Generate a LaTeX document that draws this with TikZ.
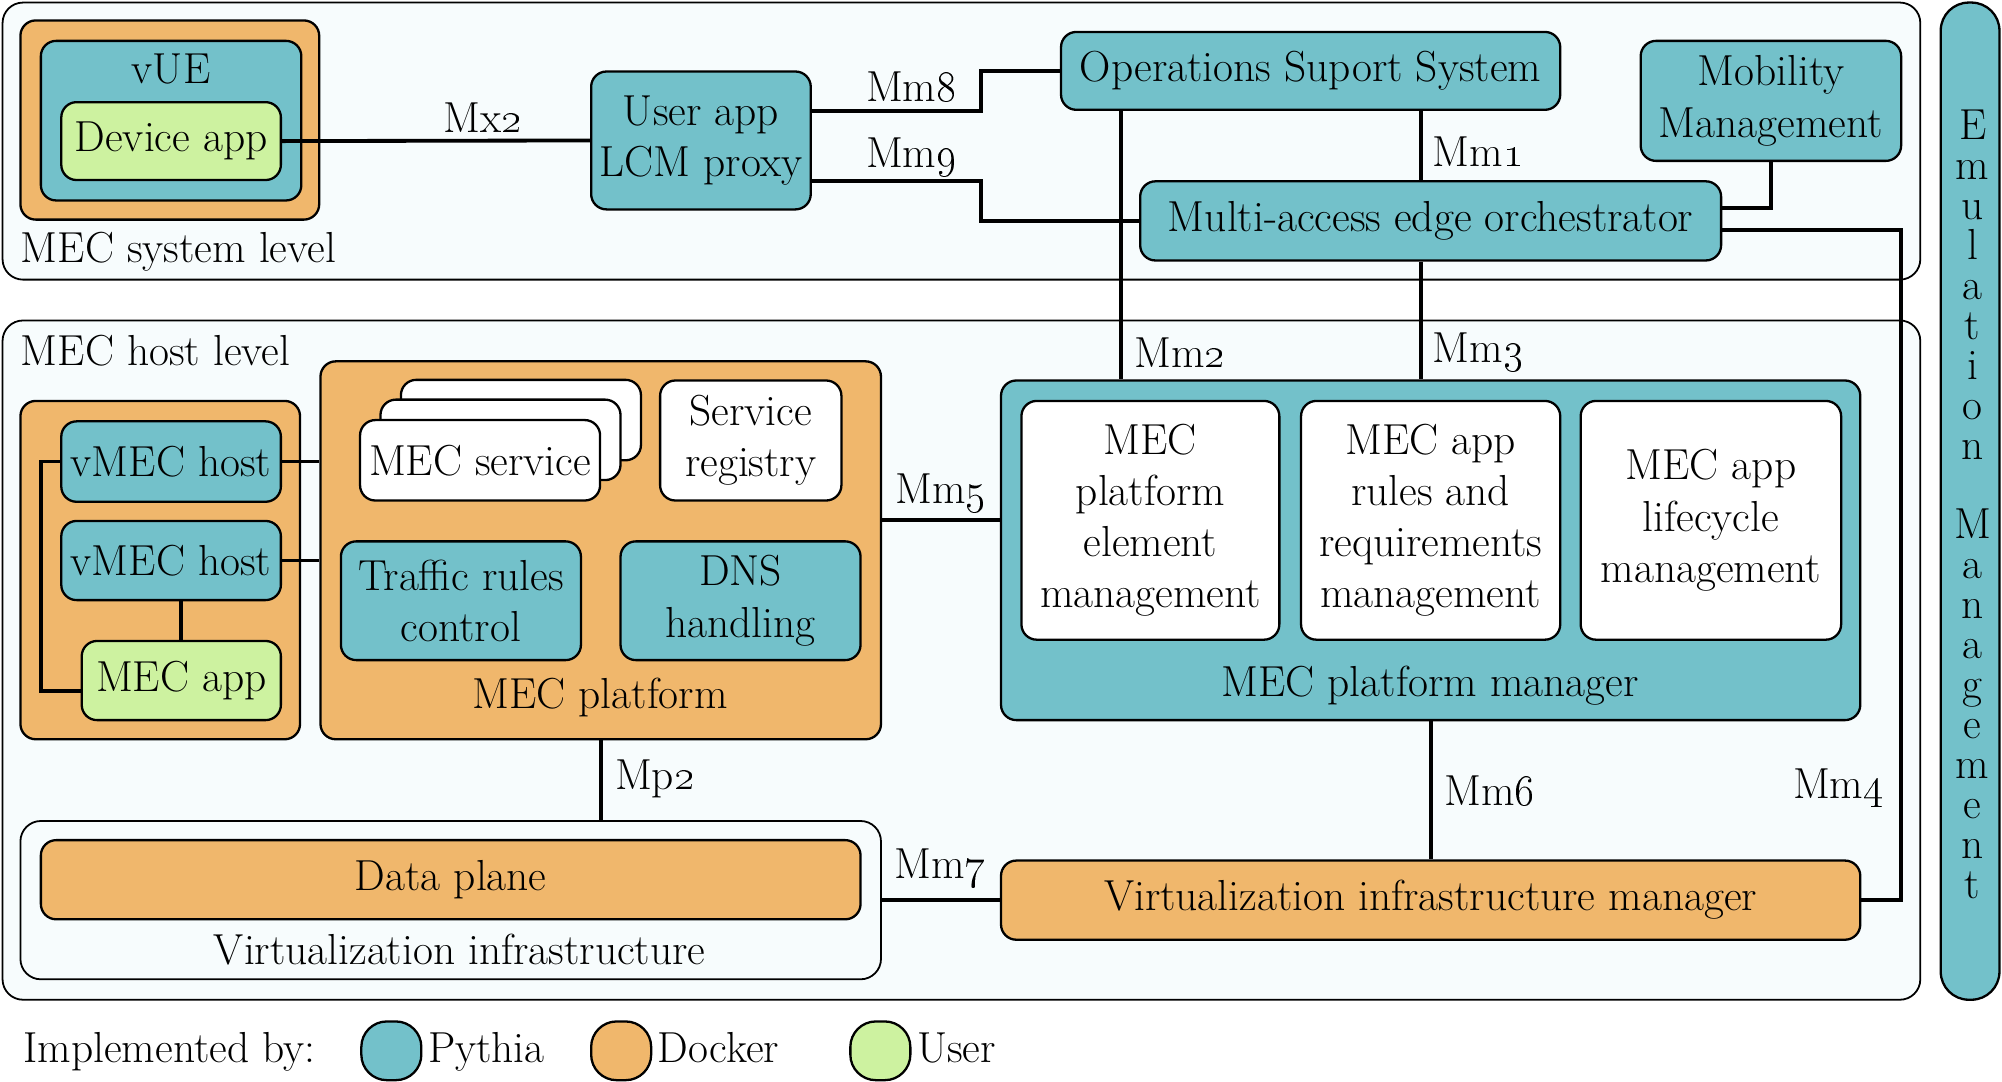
\documentclass[tikz,border=0pt]{standalone}
\usetikzlibrary{calc}

\definecolor{pythia}{RGB}{115,193,202}
\definecolor{docker}{RGB}{240,183,108}
\definecolor{userapp}{RGB}{205,242,160}
\definecolor{levelbg}{RGB}{247,252,253}

\begin{document}
\begin{tikzpicture}[
    x=0.5pt, y=-0.5pt,
    every node/.style={font=\fontsize{17}{20}\selectfont, align=center, inner sep=2pt},
    box/.style={draw, line width=0.9pt, rounded corners=6pt},
    pythiabox/.style={box, fill=pythia},
    dockerbox/.style={box, fill=docker},
    userbox/.style={box, fill=userapp},
    whitebox/.style={box, fill=white},
    levelbox/.style={draw, line width=0.7pt, fill=levelbg, rounded corners=8pt},
    link/.style={line width=1.5pt},
    swatch/.style={box, rounded corners=10pt, minimum width=23.5pt, minimum height=23pt},
  ]
  \useasboundingbox (0,0) rectangle (1568,847);

  % levels
  \node [levelbox, minimum width=751pt, minimum height=108.5pt] (sys) at (753,110.5) {};
  \node [levelbox, minimum width=751pt, minimum height=266pt] (host) at (753,517) {};
  \node [pythiabox, rounded corners=11pt, minimum width=23pt, minimum height=390.5pt] (emu) at (1543,392.5) {};
  \node [font=\fontsize{17}{15.65}\selectfont] (emutext) at (1545,395)
    {E\\m\\u\\l\\a\\t\\i\\o\\n\\ \\M\\a\\n\\a\\g\\e\\m\\e\\n\\t};
  \node [anchor=west] (syslabel) at (12,197) {MEC system level};
  \node [anchor=west] (hostlabel) at (12,275) {MEC host level};

  % MEC system level
  \node [dockerbox, minimum width=117pt, minimum height=78pt] (vuebox) at (133,94) {};
  \node [pythiabox, minimum width=102pt, minimum height=62.5pt] (vue) at (134,94.5) {};
  \node (vuelabel) at (134,54) {vUE};
  \node [userbox, minimum width=86pt, minimum height=30.5pt] (devapp) at (134,110.5) {Device app};
  \node [pythiabox, minimum width=86pt, minimum height=54pt] (ualcm) at (549,110) {User app\\LCM proxy};
  \node [pythiabox, minimum width=195.5pt, minimum height=30.5pt] (oss) at (1026.5,55.5) {Operations Suport System};
  \node [pythiabox, minimum width=102pt, minimum height=47pt] (mob) at (1387,79) {Mobility\\Management};
  \node [pythiabox, minimum width=227.5pt, minimum height=31pt] (meo) at (1120.5,173) {Multi-access edge orchestrator};

  % MEC host level
  \node [dockerbox, minimum width=109.5pt, minimum height=132.5pt] (hostdock) at (125.5,446.5) {};
  \node [pythiabox, minimum width=86pt, minimum height=31.5pt] (vmec1) at (134,361.5) {vMEC host};
  \node [pythiabox, minimum width=86pt, minimum height=31pt] (vmec2) at (134,439) {vMEC host};
  \node [userbox, minimum width=78pt, minimum height=31pt] (mecapp) at (142,533) {MEC app};

  \node [dockerbox, minimum width=219.5pt, minimum height=148pt] (mecplat) at (470.5,431) {};
  \node (mecplatlabel) at (470,546) {MEC platform};
  \node [whitebox, minimum width=94pt, minimum height=31.5pt] (srv3) at (408,329) {};
  \node [whitebox, minimum width=94pt, minimum height=31.5pt] (srv2) at (392,344.5) {};
  \node [whitebox, minimum width=94pt, minimum height=31.5pt] (srv1) at (376,360.5) {MEC service};
  \node [whitebox, minimum width=71pt, minimum height=47pt] (reg) at (588,345) {Service\\registry};
  \node [pythiabox, minimum width=94pt, minimum height=46.5pt] (trc) at (361,470.5) {Traffic rules\\control};
  \node [pythiabox, minimum width=94pt, minimum height=46.5pt] (dns) at (580,470.5) {DNS\\handling};

  \node [pythiabox, minimum width=336.5pt, minimum height=133pt] (mpm) at (1120.5,431) {};
  \node (mpmlabel) at (1120,537) {MEC platform manager};
  \node [whitebox, minimum width=101pt, minimum height=93.5pt] (pem) at (901,407.5) {MEC\\platform\\element\\management};
  \node [whitebox, minimum width=101.5pt, minimum height=93.5pt] (arm) at (1120.5,407.5) {MEC app\\rules and\\requirements\\management};
  \node [whitebox, minimum width=102pt, minimum height=93.5pt] (lcm) at (1340,407.5) {MEC app\\lifecycle\\management};

  \node [levelbox, minimum width=337pt, minimum height=62pt] (vi) at (353,705) {};
  \node (vilabel) at (360,744) {Virtualization infrastructure};
  \node [dockerbox, minimum width=321pt, minimum height=31pt] (dp) at (353,689) {Data plane};
  \node [dockerbox, minimum width=336.5pt, minimum height=31pt] (vim) at (1120.5,705) {Virtualization infrastructure manager};

  % bends of the links
  \coordinate (m8) at (768,87);
  \coordinate (m9) at (768,142);
  \coordinate (m1) at (1113,0);
  \coordinate (m2) at (878,0);
  \coordinate (mb) at (1387,163);
  \coordinate (m4) at (1489,180);
  \coordinate (m5) at (737,407);
  \coordinate (lp) at (32,541);

  % reference points connectors
  \draw [link] (devapp.east) -- (ualcm.west);
  \draw [link] (ualcm.east |- m8) -- (m8) |- (oss.west);
  \draw [link] (ualcm.east |- m9) -- (m9) |- (meo.west);
  \draw [link] (oss.south -| m1) -- (meo.north -| m1);
  \draw [link] (oss.south -| m2) -- (mpm.north -| m2);
  \draw [link] (meo.south -| m1) -- (mpm.north -| m1);
  \draw [link] (mob.south) -- (mb) -- (meo.east |- mb);
  \draw [link] (meo.east |- m4) -- (m4) |- (vim.east);
  \draw [link] (vmec1.east) -- (vmec1.east -| mecplat.west);
  \draw [link] (vmec2.east) -- (vmec2.east -| mecplat.west);
  \draw [link] (mecapp.north) -- (mecapp.north |- vmec2.south);
  \draw [link] (vmec1.west) -| (lp) -- (lp -| mecapp.west);
  \draw [link] (mecplat.east |- m5) -- (mpm.west |- m5);
  \draw [link] (mpm.south) -- (vim.north);
  \draw [link] (vi.east) -- (vim.west);
  \draw [link] (mecplat.south) -- (mecplat.south |- vi.north);

  % interface labels
  \node (lmx2) at (378,92) {Mx\oldstylenums{2}};
  \node (lmm8) at (714,68) {Mm\oldstylenums{8}};
  \node (lmm9) at (714,123) {Mm\oldstylenums{9}};
  \node (lmm1) at (1158,119) {Mm\oldstylenums{1}};
  \node (lmm2) at (924,276) {Mm\oldstylenums{2}};
  \node (lmm3) at (1158,276) {Mm\oldstylenums{3}};
  \node (lmm5) at (737,386) {Mm\oldstylenums{5}};
  \node (lmm7) at (736,680) {Mm\oldstylenums{7}};
  \node (lmm6) at (1167,619) {Mm\oldstylenums{6}};
  \node (lmm4) at (1440,617) {Mm\oldstylenums{4}};
  \node (lmp2) at (513,610) {Mp\oldstylenums{2}};

  % legend
  \node [anchor=base west] (legend) at (14,832) {Implemented by:};
  \node [swatch, fill=pythia] (swp) at (306.5,823) {};
  \node [anchor=base west] (lgp) at (swp.east |- legend.base) {Pythia};
  \node [swatch, fill=docker] (swd) at (486.5,823) {};
  \node [anchor=base west] (lgd) at (swd.east |- legend.base) {Docker};
  \node [swatch, fill=userapp] (swu) at (689.5,823) {};
  \node [anchor=base west] (lgu) at (swu.east |- legend.base) {User};
\end{tikzpicture}
\end{document}
